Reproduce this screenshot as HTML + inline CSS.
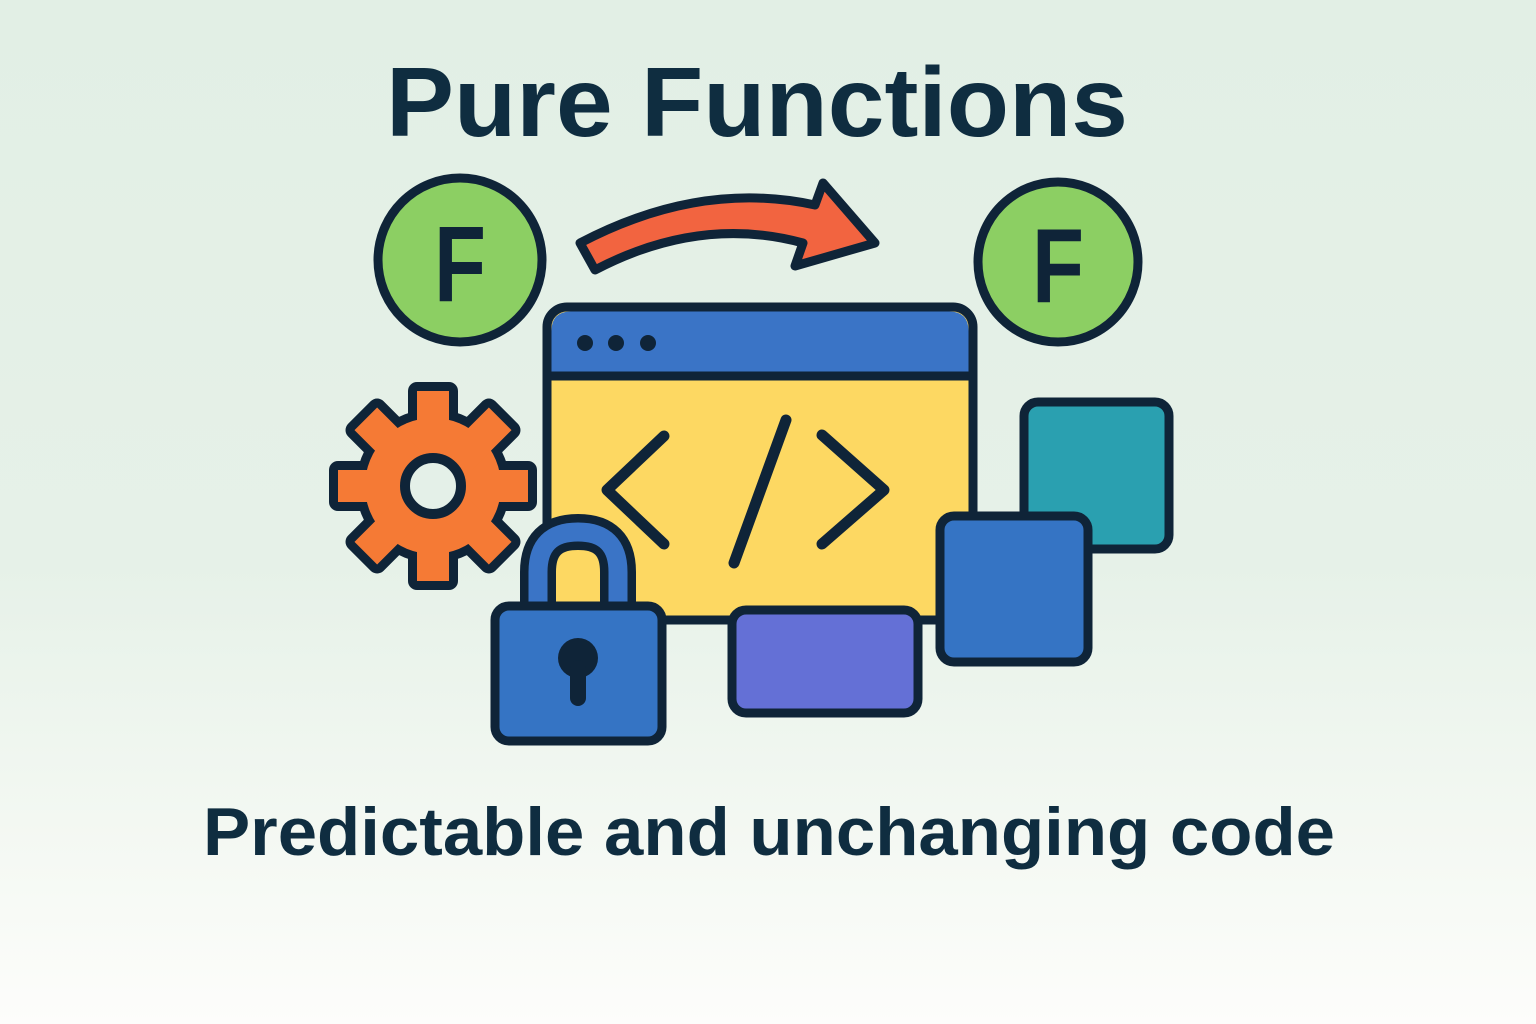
<!DOCTYPE html>
<html><head><meta charset="utf-8"><style>
html,body{margin:0;padding:0;width:1536px;height:1024px;overflow:hidden}
body{background:linear-gradient(180deg,#e2efe5 0%,#e6f1e8 55%,#f3f8f2 80%,#fdfdfb 100%)}
svg{display:block}
</style></head><body>
<svg width="1536" height="1024" viewBox="0 0 1536 1024" xmlns="http://www.w3.org/2000/svg">
<g font-family="Liberation Sans, sans-serif" font-weight="bold" fill="#0f2d40" text-anchor="middle">
<text x="757" y="136" font-size="98" textLength="742" lengthAdjust="spacingAndGlyphs">Pure Functions</text>
<text x="769" y="855" font-size="68" textLength="1132" lengthAdjust="spacingAndGlyphs">Predictable and unchanging code</text>
</g>
<circle cx="460" cy="260" r="82" fill="#8ccf63" stroke="#0f2438" stroke-width="9"/>
<text x="460" y="301" font-family="Liberation Sans, sans-serif" font-weight="bold" font-size="108" fill="#0f2438" text-anchor="middle" textLength="52" lengthAdjust="spacingAndGlyphs">F</text>
<circle cx="1058" cy="262" r="80" fill="#8ccf63" stroke="#0f2438" stroke-width="9"/>
<text x="1058" y="302" font-family="Liberation Sans, sans-serif" font-weight="bold" font-size="106" fill="#0f2438" text-anchor="middle" textLength="52" lengthAdjust="spacingAndGlyphs">F</text>
<path d="M580 243 Q700 180 815 205 L823 183 L875 243 L795 266 L803 243 Q700 215 595 270 Z" fill="#f26440" stroke="#0f2438" stroke-width="9" stroke-linejoin="round"/>
<rect x="547" y="307" width="426" height="313" rx="20" fill="#fdd862" stroke="#0f2438" stroke-width="9"/>
<path d="M551.5 374 V331 Q551.5 311.5 571 311.5 H949 Q968.5 311.5 968.5 331 V374 Z" fill="#3a74c6"/>
<line x1="547" y1="376" x2="973" y2="376" stroke="#0f2438" stroke-width="9"/>
<circle cx="585" cy="343" r="8" fill="#0f2438"/><circle cx="616" cy="343" r="8" fill="#0f2438"/><circle cx="648" cy="343" r="8" fill="#0f2438"/>
<g stroke="#0f2438" stroke-width="11" stroke-linecap="round" stroke-linejoin="round" fill="none">
<polyline points="664,436 607,490 664,544"/>
<line x1="786" y1="420" x2="734" y2="563"/>
<polyline points="822,435 884,490 822,544"/>
</g>
<g transform="translate(433,486)">
<g fill="#0f2438" stroke="#0f2438" stroke-width="18" stroke-linejoin="round">
<circle r="68"/>
<rect x="-16" y="-95" width="32" height="190"/>
<rect x="-16" y="-95" width="32" height="190" transform="rotate(45)"/>
<rect x="-16" y="-95" width="32" height="190" transform="rotate(90)"/>
<rect x="-16" y="-95" width="32" height="190" transform="rotate(135)"/>
</g>
<g fill="#f57a35">
<circle r="68"/>
<rect x="-16" y="-95" width="32" height="190"/>
<rect x="-16" y="-95" width="32" height="190" transform="rotate(45)"/>
<rect x="-16" y="-95" width="32" height="190" transform="rotate(90)"/>
<rect x="-16" y="-95" width="32" height="190" transform="rotate(135)"/>
</g>
<circle r="28" fill="#e4f0e8" stroke="#0f2438" stroke-width="10"/>
</g>
<rect x="1024" y="402" width="145" height="147" rx="14" fill="#2aa0b0" stroke="#0f2438" stroke-width="9"/>
<rect x="940" y="516" width="148" height="146" rx="14" fill="#3574c4" stroke="#0f2438" stroke-width="9"/>
<rect x="732" y="610" width="186" height="103" rx="14" fill="#6470d6" stroke="#0f2438" stroke-width="9"/>
<path d="M538 615 V572 Q538 532 578 532 Q618 532 618 572 V615" fill="none" stroke="#0f2438" stroke-width="36"/>
<path d="M538 615 V572 Q538 532 578 532 Q618 532 618 572 V615" fill="none" stroke="#3a74c6" stroke-width="19"/>
<rect x="495" y="606" width="167" height="135" rx="14" fill="#3574c4" stroke="#0f2438" stroke-width="9"/>
<circle cx="578" cy="658" r="20" fill="#0f2438"/>
<rect x="570" y="660" width="16" height="46" rx="8" fill="#0f2438"/>
</svg>
</body></html>
